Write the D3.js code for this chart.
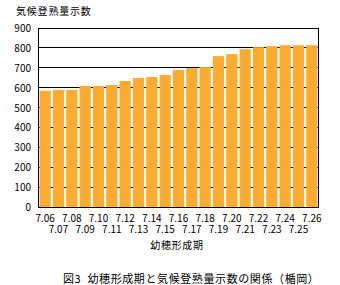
<!DOCTYPE html>
<html>
<head>
  <meta charset="utf-8">
  <script src="https://d3js.org/d3.v7.min.js"></script>
  <style>
    body { margin: 0; background: #fff; }
    text { font-family: "Noto Sans CJK JP", "Liberation Sans", sans-serif; fill: #000; }
  </style>
</head>
<body>
<script>
  var w = 340, h = 285;

  // heading dates (幼穂形成期)
  var dates = ["7.06","7.07","7.08","7.09","7.10","7.11","7.12","7.13","7.14","7.15","7.16",
               "7.17","7.18","7.19","7.20","7.21","7.22","7.23","7.24","7.25","7.26"];
  // 気候登熟量示数
  var values = [587, 591, 591, 611, 611, 616, 636, 651, 656, 666, 691,
                701, 706, 761, 771, 796, 806, 811, 816, 816, 816];
  var yTicks = [0, 100, 200, 300, 400, 500, 600, 700, 800, 900];

  var plotL = 38.5, plotR = 318.5, plotT = 28.5, plotB = 207.5;

  var svg = d3.select("body").append("svg").attr("width", w).attr("height", h);

  var x = d3.scaleBand().domain(dates).range([plotL, plotR]).paddingInner(0.16).paddingOuter(0.08);
  var y = d3.scaleLinear().domain([0, 900]).range([plotB, plotT]);

  // grid lines
  svg.selectAll("line.grid")
    .data(yTicks.slice(1))
    .enter().append("line")
    .attr("x1", plotL).attr("x2", plotR)
    .attr("y1", function(d){ return Math.round(y(d)) - 0.5; })
    .attr("y2", function(d){ return Math.round(y(d)) - 0.5; })
    .attr("stroke", "#000").attr("stroke-width", 1);

  // bars
  svg.selectAll("rect.bar")
    .data(values)
    .enter().append("rect")
    .attr("x", function(d, i){ return x(dates[i]); })
    .attr("width", x.bandwidth())
    .attr("y", function(d){ return y(d); })
    .attr("height", function(d){ return y(0) - y(d); })
    .attr("fill", "#FFAB2F");

  // frame
  svg.append("rect")
    .attr("x", plotL).attr("y", plotT)
    .attr("width", plotR - plotL).attr("height", plotB - plotT)
    .attr("fill", "none").attr("stroke", "#000").attr("stroke-width", 1);

  // y tick labels
  svg.selectAll("text.ytick")
    .data(yTicks)
    .enter().append("text")
    .attr("x", 31)
    .attr("y", function(d){ return y(d) + 3.5; })
    .attr("text-anchor", "end")
    .attr("font-size", "10px")
    .text(function(d){ return d; });

  // x tick labels, staggered over two rows
  svg.selectAll("text.xtick")
    .data(dates)
    .enter().append("text")
    .attr("x", function(d){ return x(d) + x.bandwidth() / 2; })
    .attr("y", function(d, i){ return i % 2 == 0 ? 221.5 : 233; })
    .attr("text-anchor", "middle")
    .attr("font-size", "10px")
    .text(function(d){ return d; });

  // axis titles
  svg.append("text")
    .attr("x", 16).attr("y", 15)
    .attr("font-size", "10px")
    .attr("letter-spacing", "0.8px")
    .text("気候登熟量示数");

  svg.append("text")
    .attr("x", 177).attr("y", 249)
    .attr("text-anchor", "middle")
    .attr("font-size", "10px")
    .attr("letter-spacing", "0.7px")
    .text("幼穂形成期");

  // caption
  svg.append("text")
    .attr("x", 63).attr("y", 283)
    .attr("font-size", "11px")
    .attr("letter-spacing", "0.6px")
    .attr("xml:space", "preserve")
    .style("white-space", "pre")
    .text("図3  幼穂形成期と気候登熟量示数の関係（楯岡）");
</script>
</body>
</html>
